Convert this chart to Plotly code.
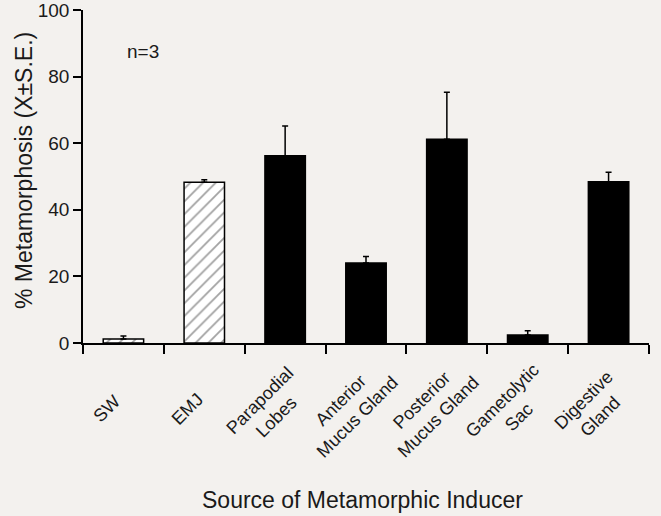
import plotly.graph_objects as go

categories = ["SW", "EMJ", "Parapodial<br>Lobes", "Anterior<br>Mucus Gland",
              "Posterior<br>Mucus Gland", "Gametolytic<br>Sac", "Digestive<br>Gland"]
means = [1.2, 48.3, 56.2, 24.0, 61.2, 2.4, 48.4]
se = [0.9, 0.7, 9.0, 2.0, 14.1, 1.3, 2.9]
fills = ["white", "white", "black", "black", "black", "black", "black"]
patterns = ["/", "/", "", "", "", "", ""]
y_ticks = [0, 20, 40, 60, 80, 100]

bg = "#f3f1ee"
FONT = "Liberation Sans, Arial, Helvetica, sans-serif"

fig = go.Figure()
fig.add_trace(go.Bar(
    x=categories, y=means,
    marker=dict(color=fills, line=dict(color="black", width=1.5),
                pattern=dict(shape=patterns, fgcolor="#000", bgcolor="white",
                             size=9, solidity=0.2)),
    error_y=dict(type="data", array=se, arrayminus=[0] * len(se), symmetric=False,
                 color="black", thickness=1.5, width=3),
    showlegend=False,
))

# rotated category labels
for c in categories:
    fig.add_annotation(x=c, xref="x", y=-0.197, yref="paper", text=c,
                       showarrow=False, textangle=-45, xanchor="center",
                       yanchor="middle", xshift=-17, align="center",
                       font=dict(size=18, color="#1a1a1a"))

fig.add_annotation(x=0.24, y=87.4, xref="x", yref="y", text="n=3", showarrow=False,
                   font=dict(size=19, color="#1a1a1a"))

# axis titles
fig.add_annotation(x=-0.104, y=0.517, xref="paper", yref="paper",
                   text="% Metamorphosis (X±S.E.)", textangle=-90, showarrow=False,
                   xanchor="center", yanchor="middle",
                   font=dict(size=23, color="#1a1a1a"))
fig.add_annotation(x=0.493, y=-0.47, xref="paper", yref="paper",
                   text="Source of Metamorphic Inducer", showarrow=False,
                   xanchor="center", yanchor="middle",
                   font=dict(size=23, color="#1a1a1a"))

fig.update_layout(
    width=661, height=516,
    paper_bgcolor=bg, plot_bgcolor=bg,
    margin=dict(l=83, r=12, t=10, b=173),
    bargap=0.5,
    font=dict(family=FONT, color="#1a1a1a"),
    xaxis=dict(
        range=[-0.5, 6.5], tickson="boundaries", ticks="outside", ticklen=9,
        tickwidth=1.5, tickcolor="black", showline=True, linecolor="black",
        linewidth=1.5, showticklabels=False, showgrid=False, automargin=False,
    ),
    yaxis=dict(
        range=[0, 100], tickvals=y_ticks, ticks="outside", ticklen=8,
        tickwidth=1.5, tickcolor="black", showline=True, linecolor="black",
        linewidth=1.5, tickfont=dict(size=19), showgrid=False, zeroline=False,
        automargin=False, ticklabeloverflow="allow",
    ),
)

fig.write_html(
    "out.html",
    config={"displayModeBar": False},
    post_script="document.body.style.margin='0';document.body.style.background='%s';" % bg,
)
